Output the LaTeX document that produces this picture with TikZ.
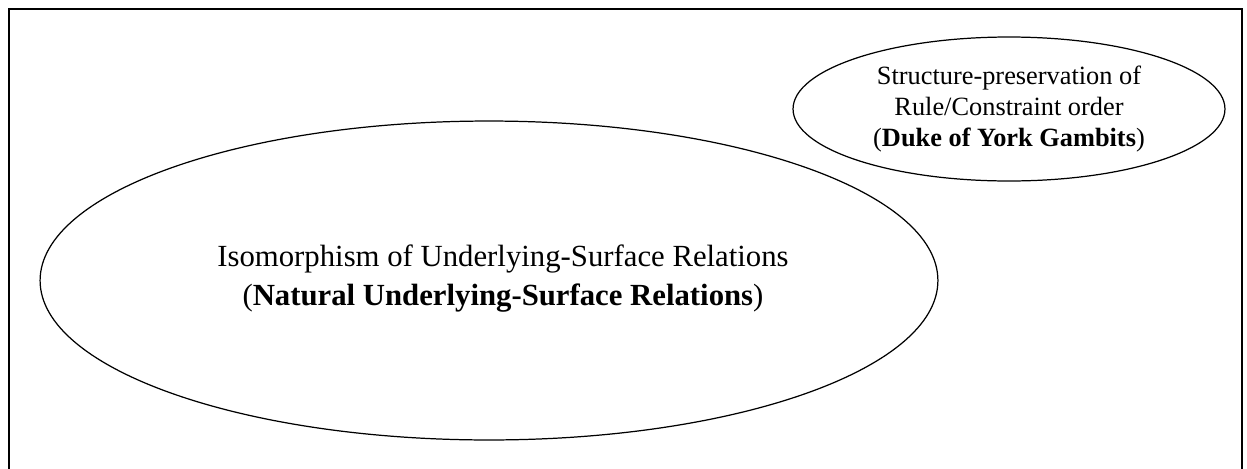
\documentclass[tikz,border=0pt]{standalone}
\usepackage{fontspec}
\setmainfont{Liberation Serif}
\usetikzlibrary{shapes.geometric}
\tikzset{
  frame/.style={draw=black,line width=1.1pt},
  bubble/.style={ellipse,draw=black,line width=.7pt,inner sep=0pt,align=center},
  big/.style={bubble,minimum width=17.96cm,minimum height=6.38cm},
  bigtext/.style={align=center,inner sep=0pt,font=\fontsize{17.5}{22}\selectfont},
  small/.style={bubble,minimum width=8.64cm,minimum height=2.88cm,font=\fontsize{15}{17.6}\selectfont}
}
\begin{document}
\begin{tikzpicture}[x=.02cm,y=.02cm]
  \useasboundingbox (0,0) rectangle (1247,468);
  \draw[frame] (9,459) rectangle (1242,-10);

  \node[big] (iso) at (489,187.5) {};
  \node[bigtext] (isotext) at ([xshift=.28cm,yshift=.04cm]iso.center) {Isomorphism of Underlying-Surface Relations\\(\textbf{Natural Underlying-Surface Relations})};
  \node[small] (duke) at (1009,359) {Structure-preservation of\\Rule/Constraint order\\(\textbf{Duke of York Gambits})};
\end{tikzpicture}
\end{document}
